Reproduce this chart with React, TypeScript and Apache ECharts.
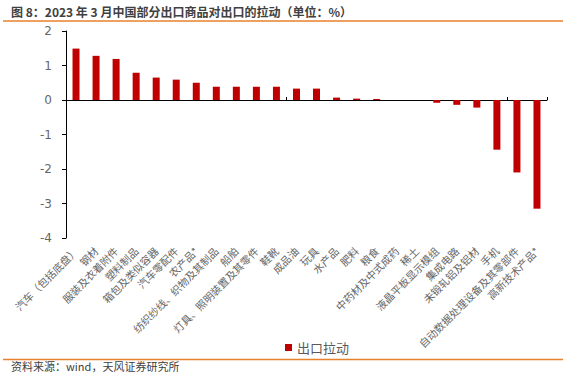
import React, { useEffect, useRef } from "react";
import * as echarts from "echarts";

const categories = [
  "汽车（包括底盘）",
  "钢材",
  "服装及衣着附件",
  "塑料制品",
  "箱包及类似容器",
  "汽车零配件",
  "农产品*",
  "纺织纱线、织物及其制品",
  "船舶",
  "灯具、照明装置及其零件",
  "鞋靴",
  "成品油",
  "玩具",
  "水产品",
  "肥料",
  "粮食",
  "中药材及中式成药",
  "稀土",
  "液晶平板显示模组",
  "集成电路",
  "未锻轧铝及铝材",
  "手机",
  "自动数据处理设备及其零部件",
  "高新技术产品*",
];

const values = [
  1.49, 1.28, 1.19, 0.79, 0.65, 0.59, 0.5, 0.385, 0.385, 0.385, 0.385, 0.33,
  0.33, 0.07, 0.04, 0.03, 0, 0, -0.08, -0.14, -0.22, -1.44, -2.1, -3.15,
];

const seriesName = "出口拉动";
const titleText = "图 8：2023 年 3 月中国部分出口商品对出口的拉动（单位：%）";
const sourceText = "资料来源：wind，天风证券研究所";

export default function App() {
  const ref = useRef<HTMLDivElement>(null);
  useEffect(() => {
    if (!ref.current) return;
    const chart = echarts.init(ref.current, null, { renderer: "svg" });
    const font = "'Noto Sans CJK SC', 'Noto Sans', sans-serif";
    chart.setOption({
      animation: false,
      textStyle: { fontFamily: font },
      grid: { left: 66, right: 19, top: 31, bottom: 140, containLabel: false },
      legend: {
        data: [seriesName],
        left: 280,
        top: 336,
        icon: "rect",
        itemWidth: 7,
        itemHeight: 7,
        itemGap: 5,
        textStyle: { color: "#595959", fontSize: 13, fontFamily: font },
      },
      xAxis: [
        {
          type: "category",
          data: categories,
          position: "bottom",
          axisLine: { onZero: true, lineStyle: { color: "#000", width: 1 } },
          axisTick: { show: true, inside: true, length: 3, lineStyle: { color: "#000" } },
          axisLabel: { show: false },
          splitLine: { show: false },
        },
        {
          type: "category",
          data: categories,
          position: "bottom",
          axisLine: { show: false, onZero: false },
          axisTick: { show: false },
          axisLabel: {
            show: true,
            interval: 0,
            rotate: 45,
            margin: 11,
            color: "#666666",
            fontSize: 10.5,
            fontFamily: font,
          },
          splitLine: { show: false },
        },
      ],
      yAxis: {
        type: "value",
        min: -4,
        max: 2,
        interval: 1,
        axisLine: { show: true, lineStyle: { color: "#000" } },
        axisTick: { show: true, length: 4, lineStyle: { color: "#000" } },
        axisLabel: {
          color: "#666666",
          fontSize: 12,
          margin: 14,
          fontFamily: "'DejaVu Sans', sans-serif",
        },
        splitLine: { show: false },
      },
      series: [
        {
          name: seriesName,
          type: "bar",
          xAxisIndex: 0,
          data: values,
          barWidth: 7,
          itemStyle: { color: "#C00000" },
        },
      ],
      graphic: [
        {
          type: "text",
          left: 11,
          top: 5,
          style: {
            text: titleText,
            fill: "#404040",
            font: `bold 12px ${font}`,
          },
        },
        {
          type: "line",
          shape: { x1: 3, y1: 21, x2: 563, y2: 21 },
          style: { stroke: "#E8812B", lineWidth: 1.5 },
        },
        {
          type: "line",
          shape: { x1: 3, y1: 359.5, x2: 563, y2: 359.5 },
          style: { stroke: "#E8812B", lineWidth: 1.5 },
        },
        {
          type: "text",
          left: 11,
          top: 360,
          style: {
            text: sourceText,
            fill: "#404040",
            font: `11px ${font}`,
          },
        },
      ],
    });
    return () => chart.dispose();
  }, []);
  return <div ref={ref} style={{ width: 566, height: 378, position: "absolute", left: 0, top: 0 }} />;
}
